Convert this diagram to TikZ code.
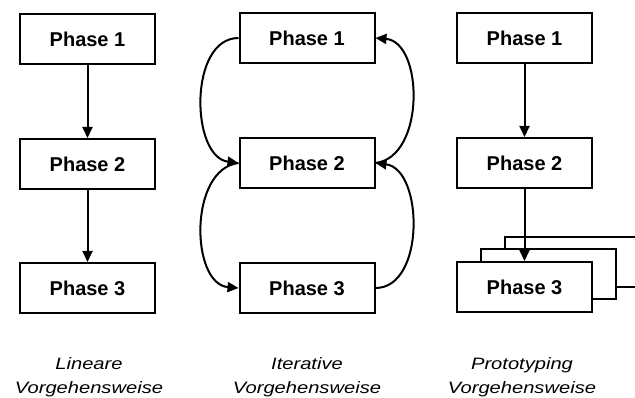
\documentclass[tikz,border=0pt]{standalone}
\usepackage{fontspec}
\setmainfont{Liberation Sans}
\usetikzlibrary{arrows.meta}
\newcommand{\capwide}[1]{\scalebox{1.22}[1]{#1}}
\begin{document}
\begin{tikzpicture}[x=1pt,y=-1pt,
  phasebox/.style={draw, line width=2pt, fill=white, minimum width=135pt, minimum height=50pt, inner sep=0pt, font=\fontsize{20}{23}\selectfont\bfseries},
  backbox/.style={draw, line width=2pt, fill=white, minimum width=135pt, minimum height=50pt, inner sep=0pt},
  flow/.style={line width=2pt, -{Triangle[length=11pt,width=10pt]}},
  caption/.style={anchor=base, inner sep=0pt, font=\fontsize{16.5}{20}\selectfont\itshape}]
\useasboundingbox (0,0) rectangle (635,398);
% Linear
\node[phasebox] (l1) at (87.5,39) {Phase 1};
\node[phasebox] (l2) at (87.5,164) {Phase 2};
\node[phasebox] (l3) at (87.5,288) {Phase 3};
\draw[flow] (l1) -- (l2);
\draw[flow] (l2) -- (l3);
% Iterative
\node[phasebox] (i1) at (307,38) {Phase 1};
\node[phasebox] (i2) at (307,163) {Phase 2};
\node[phasebox] (i3) at (307,288) {Phase 3};
\draw[flow] (i1.west) .. controls +(-50,0) and +(-48,-6) .. (i2.west);
\draw[flow] (i2.west) .. controls +(-50,6) and +(-48,-4) .. (i3.west);
\draw[flow] (i3.east) .. controls +(50,0) and +(48,6) .. (i2.east);
\draw[flow] (i2.east) .. controls +(50,-6) and +(48,4) .. (i1.east);
% Prototyping
\node[phasebox] (p1) at (524.5,38) {Phase 1};
\node[phasebox] (p2) at (524.5,163) {Phase 2};
\begin{scope}
\clip (0,0) rectangle (635,398);
\node[backbox] (pb3) at (572.5,262) {};
\end{scope}
\node[backbox] (pb2) at (548.5,274.5) {};
\node[phasebox] (p3) at (524.5,287) {Phase 3};
\draw[flow] (p1) -- (p2);
\draw[flow] (p2) -- (p3);
% Captions
\node[caption] (c1a) at (89,369) {\capwide{Lineare}};
\node[caption] (c1b) at (89,393) {\capwide{Vorgehensweise}};
\node[caption] (c2a) at (307,369) {\capwide{Iterative}};
\node[caption] (c2b) at (307,393) {\capwide{Vorgehensweise}};
\node[caption] (c3a) at (522,369) {\capwide{Prototyping}};
\node[caption] (c3b) at (522,393) {\capwide{Vorgehensweise}};
\end{tikzpicture}
\end{document}
